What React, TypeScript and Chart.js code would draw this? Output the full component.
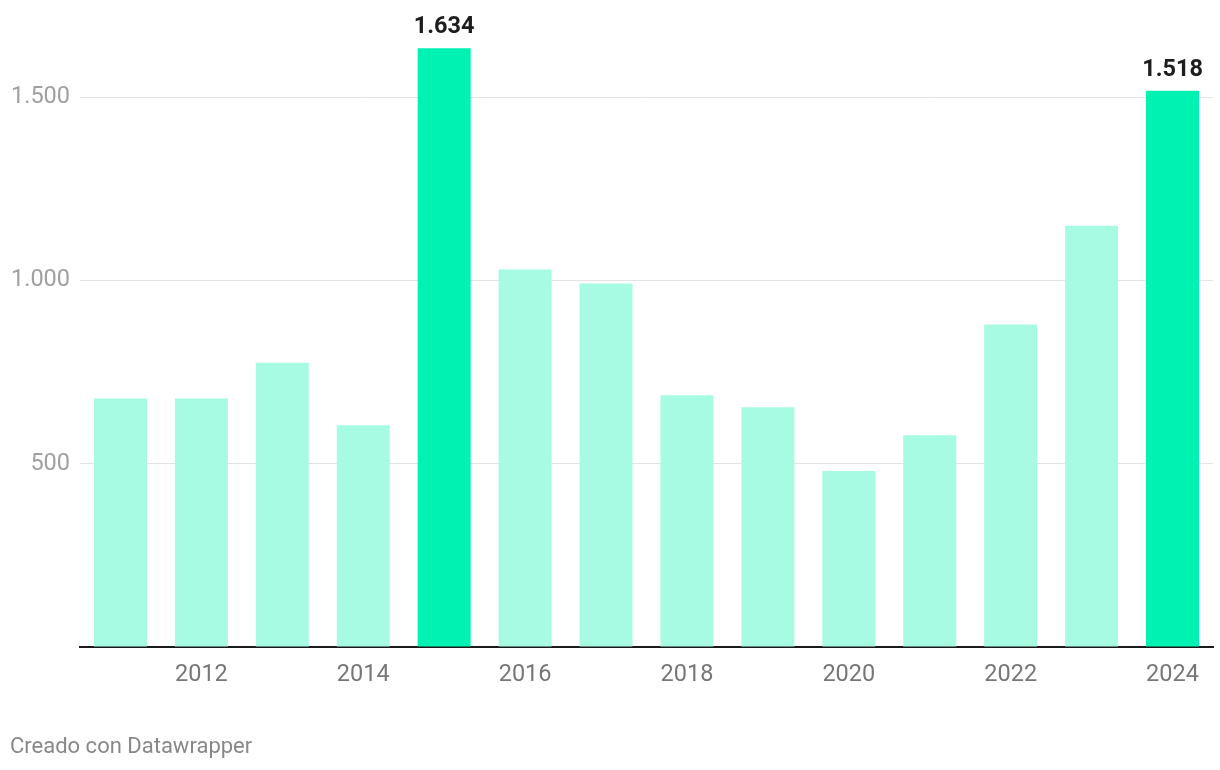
import React, { useEffect, useRef } from "react";
import { Chart, registerables } from "chart.js";

Chart.register(...registerables);

const years = ["2011", "2012", "2013", "2014", "2015", "2016", "2017", "2018", "2019", "2020", "2021", "2022", "2023", "2024"];
const values = [678, 678, 776, 605, 1634, 1030, 992, 687, 654, 480, 578, 880, 1150, 1518];
const highlighted = ["2015", "2024"];
const yTicks = [0, 500, 1000, 1500];

const LIGHT = "#a8fbe3";
const STRONG = "#00f2b2";

const fmt = (v: number) => String(v).replace(/\B(?=(\d{3})+(?!\d))/g, ".");

const labelPlugin = {
  id: "valueLabels",
  afterDatasetsDraw(chart: any) {
    const ctx = chart.ctx;
    const meta = chart.getDatasetMeta(0);
    ctx.save();
    ctx.font = "bold 23.5px Roboto";
    ctx.fillStyle = "#1d1d1d";
    ctx.textAlign = "center";
    ctx.textBaseline = "alphabetic";
    meta.data.forEach((bar: any, i: number) => {
      if (highlighted.includes(years[i])) {
        ctx.fillText(fmt(values[i]), bar.x, bar.y - 15);
      }
    });
    ctx.restore();
  },
};

export default function App() {
  const ref = useRef<HTMLCanvasElement>(null);
  useEffect(() => {
    if (!ref.current) return;
    const chart = new Chart(ref.current, {
      type: "bar",
      data: {
        labels: years,
        datasets: [
          {
            data: values,
            backgroundColor: years.map((y) => (highlighted.includes(y) ? STRONG : LIGHT)),
            barPercentage: 0.655,
            categoryPercentage: 1,
          },
        ],
      },
      options: {
        animation: false,
        responsive: false,
        devicePixelRatio: 1,
        layout: { padding: { top: 24, right: 7, left: 0, bottom: 0 } },
        plugins: { legend: { display: false }, tooltip: { enabled: false } },
        scales: {
          x: {
            grid: { display: false, drawTicks: false },
            border: { display: true, color: "#1a1a1a", width: 2 },
            ticks: {
              autoSkip: false,
              maxRotation: 0,
              padding: 14,
              color: "#777777",
              font: { family: "Roboto", size: 23.5 },
              callback: (_v: any, i: number) => (Number(years[i]) % 2 === 0 ? years[i] : ""),
            },
            afterFit: (s: any) => {
              s.height = 123;
            },
          },
          y: {
            min: 0,
            max: 1700,
            border: { display: false },
            grid: { color: (c: any) => (c.tick && c.tick.value === 0 ? "rgba(0,0,0,0)" : "#e3e3e3"), drawTicks: false, lineWidth: 1 },
            afterBuildTicks: (s: any) => {
              s.ticks = yTicks.map((v) => ({ value: v }));
            },
            ticks: {
              padding: 10,
              color: "#a0a0a0",
              font: { family: "Roboto", size: 23.5 },
              callback: (v: any) => (v === 0 ? "" : fmt(v)),
            },
            afterFit: (s: any) => {
              s.width = 80;
            },
          },
        },
      },
      plugins: [labelPlugin],
    });
    return () => chart.destroy();
  }, []);
  return (
    <div style={{ position: "fixed", left: 0, top: 0, width: 1220, height: 770, background: "#fff" }}>
      <canvas ref={ref} width={1220} height={770} style={{ width: 1220, height: 770 }} />
      <div
        style={{
          position: "absolute",
          left: 10,
          top: 732,
          fontFamily: "Roboto",
          fontSize: 22,
          lineHeight: "28px",
          color: "#888888",
        }}
      >
        Creado con Datawrapper
      </div>
    </div>
  );
}
